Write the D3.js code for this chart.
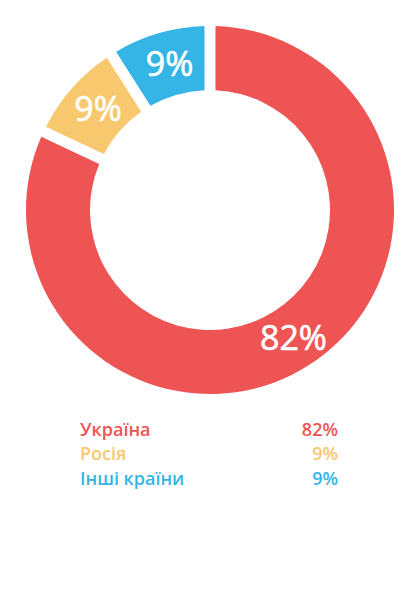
<!DOCTYPE html>
<html lang="uk">
<head>
    <meta charset="UTF-8">
    <title>Donut</title>
    <script src="https://d3js.org/d3.v7.min.js"></script>
    <style>
        body { margin: 0; background: #fff; }
        text { font-family: "Open Sans", "Noto Sans", sans-serif; }
    </style>
</head>
<body>
    <div id="chart"></div>
    <script>
        // chart data
        const categories = ["Україна", "Росія", "Інші країни"];
        const values = [82, 9, 9];
        const colors = ["#ef5454", "#f8c86e", "#35b5e5"];

        const width = 420, height = 600;
        const cx = 210, cy = 210;
        const outer = 184, inner = 120;

        const svg = d3.select("#chart")
            .append("svg")
            .attr("width", width)
            .attr("height", height);

        // slices take their full share, the gap is cut out by the arc
        const pie = d3.pie().sort(null);
        const arcs = pie(values);

        const arc = d3.arc()
            .innerRadius(inner)
            .outerRadius(outer)
            .padAngle(0.05);

        const g = svg.append("g").attr("transform", `translate(${cx},${cy})`);

        g.selectAll("path")
            .data(arcs)
            .join("path")
            .attr("d", arc)
            .attr("fill", (d, i) => colors[i]);

        // labels at slice centroids
        g.selectAll(".lbl")
            .data(arcs)
            .join("text")
            .attr("class", "lbl")
            .attr("transform", d => `translate(${arc.centroid(d)})`)
            .attr("text-anchor", "middle")
            .attr("dx", 2)
            .attr("dy", "0.34em")
            .attr("fill", "#fff")
            .attr("font-size", 34)
            .attr("stroke", "#fff")
            .attr("stroke-width", 0.6)
            .text(d => d.data + "%");

        // legend
        const legend = svg.append("g");
        const rowY = d3.scalePoint().domain(categories).range([435.5, 484.5]);

        legend.selectAll(".name")
            .data(categories)
            .join("text")
            .attr("class", "name")
            .attr("x", 80)
            .attr("y", d => rowY(d))
            .attr("font-size", 18)
            .attr("font-weight", 600)
            .attr("fill", (d, i) => colors[i])
            .text(d => d);

        legend.selectAll(".val")
            .data(values)
            .join("text")
            .attr("class", "val")
            .attr("x", 338)
            .attr("y", (d, i) => rowY(categories[i]))
            .attr("text-anchor", "end")
            .attr("font-size", 18)
            .attr("font-weight", 600)
            .attr("fill", (d, i) => colors[i])
            .text(d => d + "%");
    </script>
</body>
</html>
